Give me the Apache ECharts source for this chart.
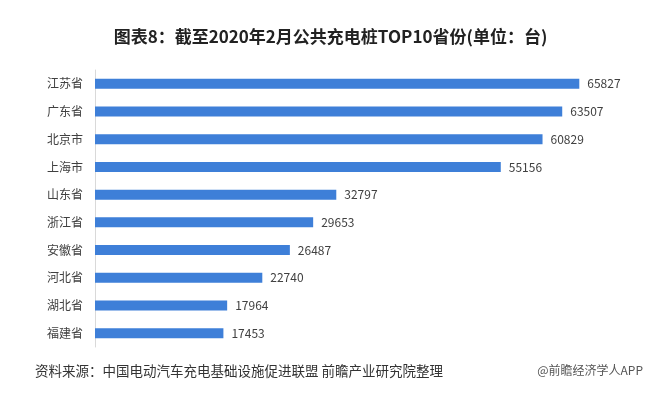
<!DOCTYPE html>
<html>
<head>
<meta charset="utf-8">
<script src="https://cdn.jsdelivr.net/npm/echarts@6/dist/echarts.min.js"></script>
<style>
  html, body { margin: 0; padding: 0; background: #fff; }
  #chart { width: 661px; height: 398px; }
</style>
</head>
<body>
<div id="chart"></div>
<script>
// top 10 provinces, public charging piles, Feb 2020 (units)
const provinces = ['江苏省', '广东省', '北京市', '上海市', '山东省', '浙江省', '安徽省', '河北省', '湖北省', '福建省']
const counts = [65827, 63507, 60829, 55156, 32797, 29653, 26487, 22740, 17964, 17453]

const titleText = '图表8：截至2020年2月公共充电桩TOP10省份(单位：台)'
const sourceText = '资料来源：中国电动汽车充电基础设施促进联盟 前瞻产业研究院整理'
const brandText = '@前瞻经济学人APP'

const font = '"Noto Sans CJK SC", "Noto Sans", sans-serif'

const chart = echarts.init(document.getElementById('chart'))

chart.setOption({
  backgroundColor: '#fff',
  textStyle: { fontFamily: font },
  title: {
    text: titleText,
    left: 'center',
    top: 23,
    textStyle: { fontSize: 17, fontWeight: 'bold', color: '#222', fontFamily: font },
  },
  graphic: [
    {
      type: 'text',
      left: 35,
      top: 364,
      style: { text: sourceText, fontSize: 13.5, fill: '#333', fontFamily: font },
    },
    {
      type: 'text',
      right: 18,
      top: 364,
      style: { text: brandText, fontSize: 12, fill: '#555', fontFamily: font },
    },
  ],
  grid: { left: 95, right: 51, top: 70, bottom: 51 },
  xAxis: {
    type: 'value',
    min: 0,
    max: 70000,
    show: false,
  },
  yAxis: {
    type: 'category',
    inverse: true,
    data: provinces,
    axisTick: { show: false },
    axisLine: { lineStyle: { color: '#d9d9d9' } },
    axisLabel: { color: '#404040', fontSize: 12, margin: 12 },
  },
  series: [
    {
      type: 'bar',
      data: counts,
      barWidth: 10,
      itemStyle: { color: '#3e7fd8' },
      label: {
        show: true,
        position: 'right',
        distance: 8,
        color: '#404040',
        fontSize: 12,
      },
    },
  ],
})
</script>
</body>
</html>
